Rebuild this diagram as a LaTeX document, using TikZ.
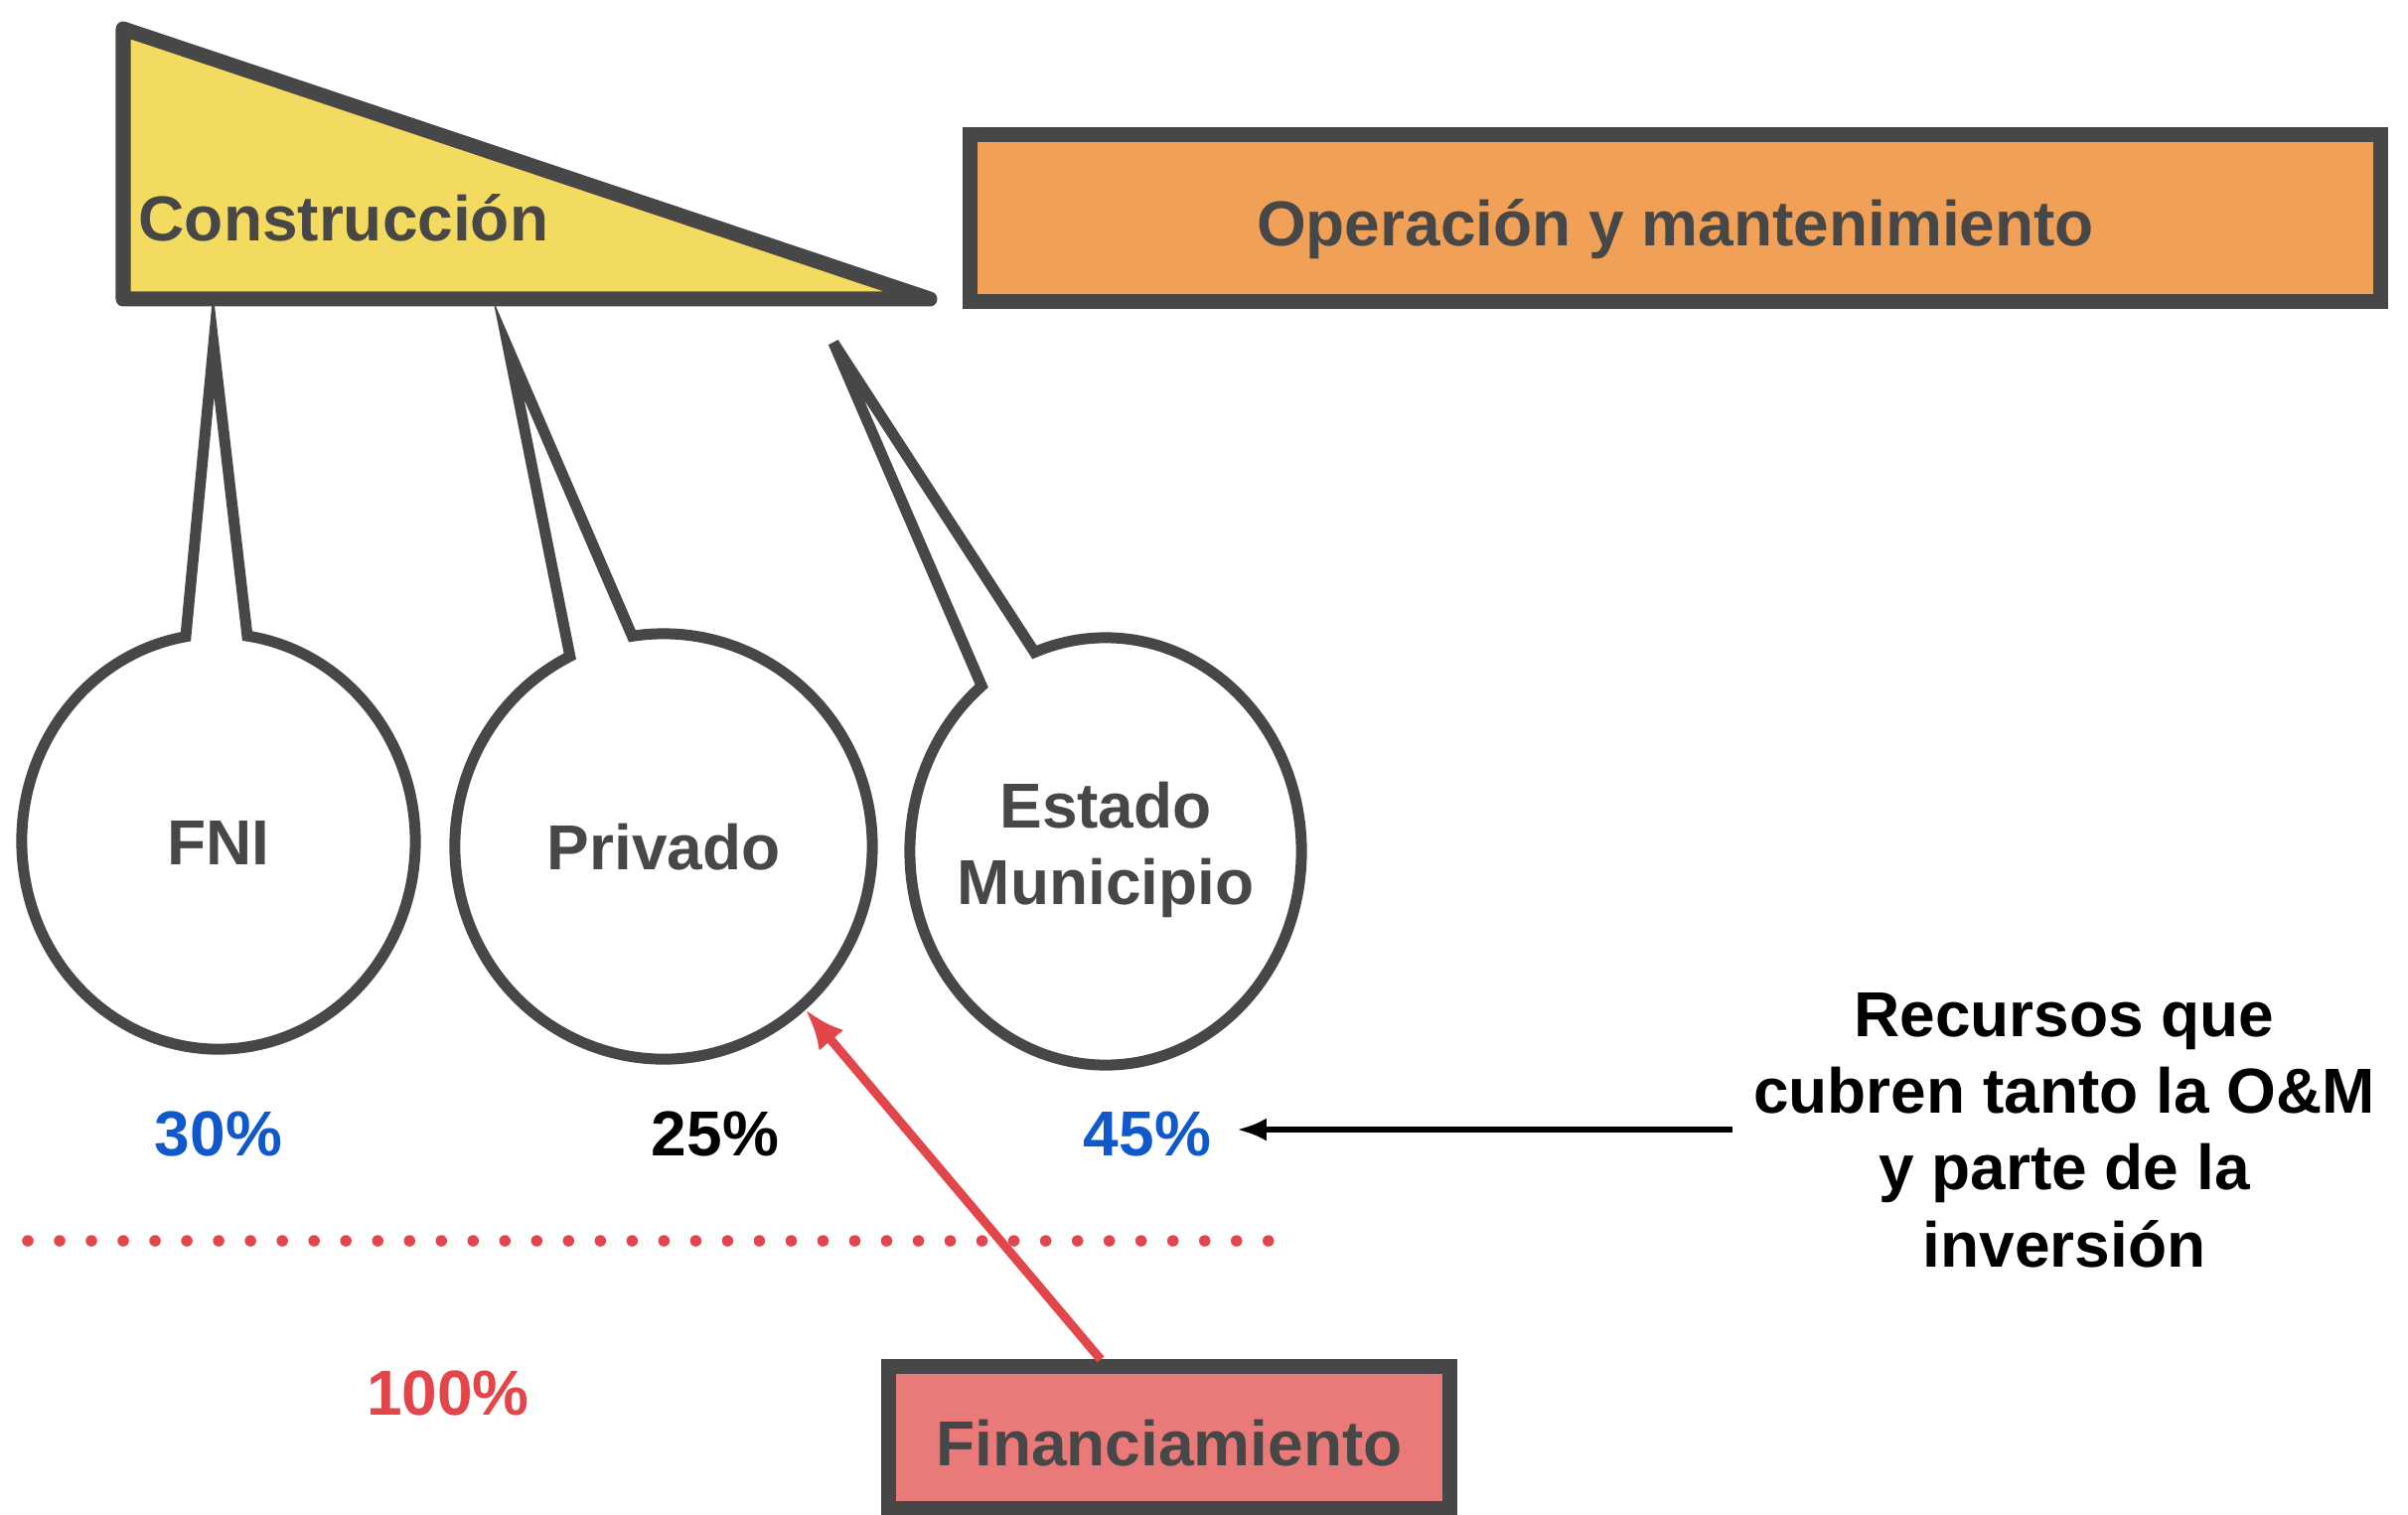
\documentclass[tikz,border=0pt]{standalone}
\usepackage{fontspec}
\setmainfont{Liberation Sans}
\usetikzlibrary{shapes.callouts,arrows.meta,calc}
\definecolor{cyellow}{HTML}{F3DA60}
\definecolor{corange}{HTML}{F0A157}
\definecolor{cpink}{HTML}{E97A79}
\definecolor{cborder}{HTML}{474747}
\definecolor{ctext}{HTML}{474747}
\definecolor{cblue}{HTML}{1158CA}
\definecolor{cred}{HTML}{E2454A}
\begin{document}
\begin{tikzpicture}[x=0.01cm,y=-0.01cm,
  lbl/.style={font=\fontsize{18.2}{21.9}\selectfont\bfseries},
  boxborder/.style={draw=cborder,line width=0.15cm},
  box/.style={boxborder,lbl,text=ctext,inner sep=0pt,text height=0.56cm,text depth=0cm},
  bubble/.style={ellipse callout,draw=cborder,line width=0.11cm,
     lbl,text=ctext,inner sep=0pt,callout pointer arc=18},
  single/.style={text height=0.46cm,text depth=0cm},
  pct/.style={lbl,anchor=base,inner sep=0.25cm},
  blackarrow/.style={draw=black,line width=0.065cm,-{Latex[length=0.3cm,width=0.23cm]}},
  redarrow/.style={draw=cred,line width=0.09cm,-{Latex[length=0.4cm,width=0.32cm]}},
  reddots/.style={draw=cred,line width=0.115cm,line cap=round,dash pattern=on 0pt off 0.32cm}
]
\useasboundingbox (0,0) rectangle (2424,1525);
\fill[white] (0,0) rectangle (2424,1525);

% Construccion triangle
\draw[boxborder,fill=cyellow,line join=round] (124,29) -- (124,301) -- (936,301) -- cycle;
\node[lbl,text=ctext,anchor=base west,inner sep=0pt] (cons) at (139,243) {Construcción};

% Operacion y mantenimiento
\node[box,fill=corange,minimum width=14.19cm,minimum height=1.67cm] (om) at (1686.5,219.5) {Operación y mantenimiento};

% callout tips
\coordinate (tipF) at (215,347);
\coordinate (tipP) at (512,352);
\coordinate (tipE) at (839,345);

% bubbles
\node[bubble,single,minimum width=3.96cm,minimum height=4.18cm,callout absolute pointer={(tipF)}] (fni) at (220,847) {FNI};
\node[bubble,single,minimum width=4.2cm,minimum height=4.28cm,callout absolute pointer={(tipP)}] (priv) at (668,852) {Privado};
\node[bubble,minimum width=3.94cm,minimum height=4.3cm,callout absolute pointer={(tipE)}] (est) at (1113,857)
  {\makebox[0pt]{\begin{tabular}{@{}c@{}}Estado\\Municipio\end{tabular}}};

% percentages
\node[pct,text=cblue] (p30) at (220,1163) {30\%};
\node[pct,text=black] (p25) at (720,1163) {25\%};
\node[pct,text=cblue] (p45) at (1155,1163) {45\%};
\node[pct,text=cred] (p100) at (451,1424) {100\%};

% dotted line
\draw[reddots] (28,1249) -- (1282,1249);

% recursos
\node[lbl,text=black,align=center,anchor=base,inner sep=0.2cm] (rec) at (2078,1275) {Recursos que\\cubren tanto la O\&M\\y parte de la\\inversión};
\draw[blackarrow] ([yshift=0.04cm]rec.west |- p45.center) -- ([yshift=0.04cm]p45.east);

% Financiamiento
\node[box,fill=cpink,minimum width=5.64cm,minimum height=1.42cm] (fin) at (1177,1447) {Financiamiento};
\draw[redarrow] ($(fin.north west)!0.381!(fin.north east)$) -- (priv.-49);
\end{tikzpicture}
\end{document}
